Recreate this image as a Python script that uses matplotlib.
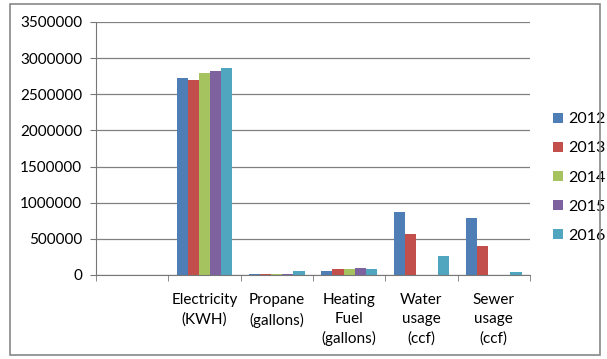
import numpy as np
import matplotlib.pyplot as plt
from matplotlib.patches import Rectangle

categories = ['', 'Electricity\n(KWH)', 'Propane\n(gallons)', 'Heating\nFuel\n(gallons)',
              'Water\nusage\n(ccf)', 'Sewer\nusage\n(ccf)']
years = ['2012', '2013', '2014', '2015', '2016']
values = {
    '2012': [0, 2725000, 18000, 55000, 865000, 795000],
    '2013': [0, 2700000, 15000, 83000, 568000, 405000],
    '2014': [0, 2790000, 14000, 80000, 0, 0],
    '2015': [0, 2818000, 16000, 100000, 0, 0],
    '2016': [0, 2865000, 60000, 80000, 263000, 45000],
}
colors = ['#4F7DB5', '#C24F4C', '#A5C35E', '#7E62A0', '#4FA6BE']

plt.rcParams['font.family'] = ['Lato', 'DejaVu Sans']

fig = plt.figure(figsize=(6.07, 3.59), dpi=100)
ax = fig.add_axes([0.158, 0.234, 0.715, 0.705])

x = np.arange(len(categories))
bar_width = 1 / 6.5
for i, yr in enumerate(years):
    ax.bar(x + (i - 2) * bar_width, values[yr], bar_width, color=colors[i], label=yr)

ax.set_xlim(-0.5, len(categories) - 0.5)
ax.set_ylim(0, 3500000)
ax.set_yticks(np.arange(0, 3500001, 500000))
ax.set_yticklabels([str(v) for v in range(0, 3500001, 500000)], fontsize=11)
ax.yaxis.grid(True, color='#808080', linewidth=0.9)
ax.set_axisbelow(True)

ax.set_xticks(x)
ax.set_xticklabels(categories, fontsize=11, linespacing=1.45)
ax.set_xticks(np.arange(-0.5, len(categories)), minor=True)
ax.tick_params(axis='x', which='major', length=0, pad=13)
ax.tick_params(axis='x', which='minor', length=4, color='#777777')
ax.tick_params(axis='y', length=4, color='#777777', pad=6)

for s in ['top', 'right']:
    ax.spines[s].set_visible(False)
for s in ['left', 'bottom']:
    ax.spines[s].set_color('#777777')

ax.legend(loc='center left', bbox_to_anchor=(1.02, 0.385), frameon=False, fontsize=11.5,
          handlelength=0.6, handleheight=0.6, handletextpad=0.35, labelspacing=0.95)

fig.patches.append(Rectangle((0.017, 0.01), 0.971, 0.98, transform=fig.transFigure,
                             fill=False, edgecolor='#888888', linewidth=1.2))

fig.savefig('out.png', dpi=100)
